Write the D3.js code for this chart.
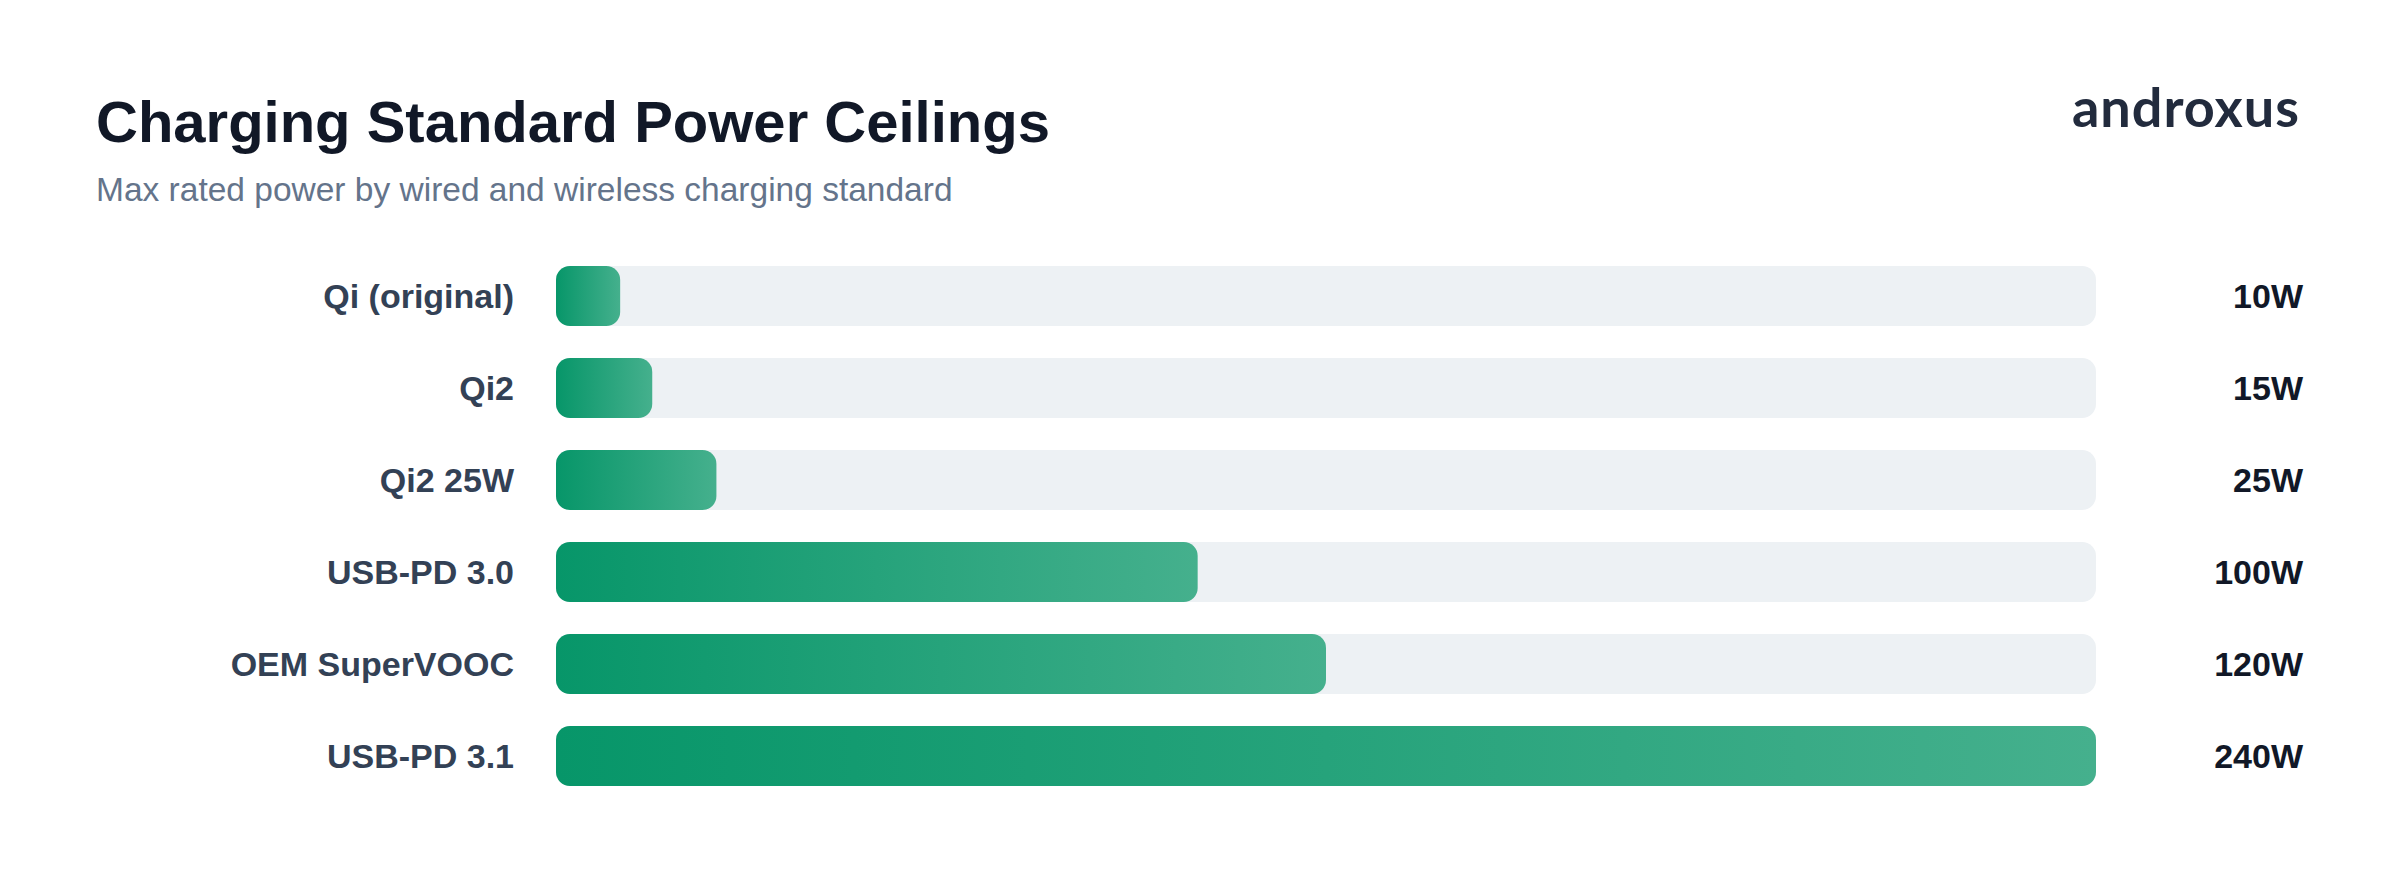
<!DOCTYPE html>
<html>
  <head>
    <meta charset="utf-8" />
    <title>Charging Standard Power Ceilings</title>
    <style>
      html, body { margin: 0; padding: 0; background: #ffffff; }
      svg { display: block; }
    </style>
  </head>
  <body>
  <div id="container"></div>
  <script src="https://cdn.jsdelivr.net/npm/d3@7/dist/d3.min.js"></script>
  <script type="text/javascript">

    // chart data
    var standards = ['Qi (original)', 'Qi2', 'Qi2 25W', 'USB-PD 3.0', 'OEM SuperVOOC', 'USB-PD 3.1'];
    var watts = [10, 15, 25, 100, 120, 240];
    var valueLabels = ['10W', '15W', '25W', '100W', '120W', '240W'];

    var width = 2400;
    var height = 882;
    var font = '"Liberation Sans", Arial, Helvetica, sans-serif';

    var svg = d3.select('#container').append('svg')
      .attr('width', width).attr('height', height);

    // gradient used by every bar, stretched over the bar's own box
    var grad = svg.append('defs').append('linearGradient')
      .attr('id', 'barGrad')
      .attr('x1', 0).attr('x2', 1).attr('y1', 0).attr('y2', 0);
    grad.append('stop').attr('offset', '0%').attr('stop-color', '#079669');
    grad.append('stop').attr('offset', '100%').attr('stop-color', '#45b08d');

    // scales
    var x = d3.scaleLinear().domain([0, 240]).range([556, 2096]);
    var y = d3.scaleBand().domain(standards).range([266, 786])
      .paddingInner(32 / 92).paddingOuter(0);

    var rows = standards.map(function(s, i){
      return {name: s, w: watts[i], label: valueLabels[i]};
    });

    // title block
    svg.append('text')
      .attr('x', 96).attr('y', 142)
      .attr('font-family', font).attr('font-weight', 700)
      .attr('font-size', 58)
      .attr('fill', '#111827')
      .text('Charging Standard Power Ceilings');

    svg.append('text')
      .attr('x', 96).attr('y', 201)
      .attr('font-family', font).attr('font-size', 33.5)
      .attr('fill', '#64748b')
      .text('Max rated power by wired and wireless charging standard');

    // brand mark
    svg.append('text')
      .attr('x', 2300).attr('y', 127)
      .attr('text-anchor', 'end')
      .attr('font-family', 'Lato, "Noto Sans", sans-serif').attr('font-weight', 700)
      .attr('font-size', 54).attr('letter-spacing', 1)
      .attr('fill', '#222b3d')
      .text('androxus');

    var row = svg.selectAll('g.row').data(rows).enter()
      .append('g').attr('class', 'row');

    // background track
    row.append('rect')
      .attr('x', x(0))
      .attr('y', function(d){ return y(d.name); })
      .attr('width', x(240) - x(0))
      .attr('height', y.bandwidth())
      .attr('rx', 14).attr('ry', 14)
      .attr('fill', '#edf1f4');

    // value bar
    row.append('rect')
      .attr('x', x(0))
      .attr('y', function(d){ return y(d.name); })
      .attr('width', function(d){ return x(d.w) - x(0); })
      .attr('height', y.bandwidth())
      .attr('rx', 14).attr('ry', 14)
      .attr('fill', 'url(#barGrad)');

    // category labels
    row.append('text')
      .attr('x', 514)
      .attr('y', function(d){ return y(d.name) + y.bandwidth() / 2 + 12; })
      .attr('text-anchor', 'end')
      .attr('font-family', font).attr('font-weight', 700)
      .attr('font-size', 34)
      .attr('fill', '#334155')
      .text(function(d){ return d.name; });

    // value labels
    row.append('text')
      .attr('x', 2303)
      .attr('y', function(d){ return y(d.name) + y.bandwidth() / 2 + 12; })
      .attr('text-anchor', 'end')
      .attr('font-family', font).attr('font-weight', 700)
      .attr('font-size', 34)
      .attr('fill', '#111827')
      .text(function(d){ return d.label; });

  </script>
  </body>
</html>
